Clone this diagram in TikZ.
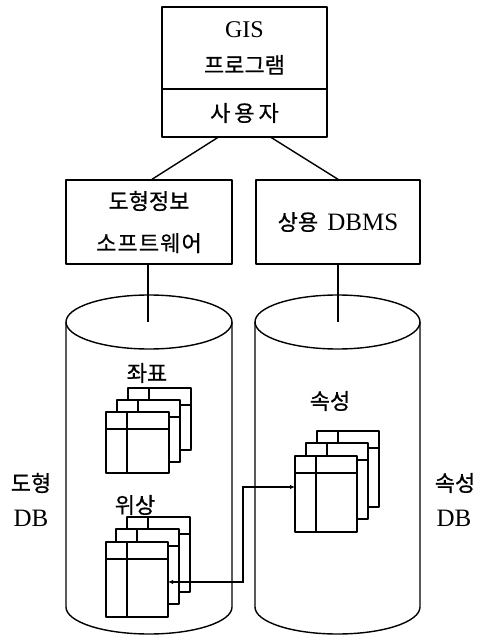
\documentclass[tikz,border=0pt]{standalone}
\usepackage{fontspec}
\setmainfont{Liberation Serif}
\newfontfamily\kr{Noto Sans CJK KR}[FakeBold=0.6]
\usetikzlibrary{arrows.meta,calc}
\tikzset{
  ln/.style={line width=1.4pt, line join=round},
  boxnode/.style={ln, draw, fill=white, inner sep=0pt, align=center},
  lbl/.style={inner sep=0pt, align=center},
  krf/.style={font=\kr\fontsize{22}{26}\selectfont},
  latf/.style={font=\fontsize{25}{28}\selectfont},
  link/.style={line width=1.2pt, {Latex[length=5pt,width=4.5pt]}-{Latex[length=5pt,width=4.5pt]}},
}
\newcommand\dbpage[4]{%
  \filldraw[ln, fill=white] (#1,#2) rectangle (#3,#4);
  \draw[ln] (#1,{#2+17}) -- (#3,{#2+17});
  \draw[ln] ({#1+21},#2) -- ({#1+21},#4);
}
\newcommand\dbcyl[5]{% cx top-center-y rx ry bottom-center-y
  \draw[ln] ({#1-#3},#2) -- ({#1-#3},#5)
     arc[start angle=180, end angle=0, x radius=#3, y radius=#4]
     -- ({#1+#3},#2);
  \draw[ln] (#1,#2) ellipse [x radius=#3, y radius=#4];
}
\begin{document}
\begin{tikzpicture}[x=1pt,y=-1pt]
\useasboundingbox (0,0) rectangle (476,636);
\fill[white] (0,0) rectangle (476,636);

% top box
\node[boxnode, minimum width=165pt, minimum height=82pt, font=\fontsize{24}{36}\selectfont] (prog) at (244.5,48)
  {GIS\\{\kr\fontsize{22}{26}\selectfont 프로그램}};
\node[boxnode, minimum width=165pt, minimum height=48pt, font=\kr\fontsize{22}{26}\selectfont] (user) at (244.5,113)
  {\addfontfeature{LetterSpace=18}사용자};

% second row boxes
\node[boxnode, minimum width=166pt, minimum height=84pt, font=\kr\fontsize{22}{42}\selectfont] (gsw) at (149,222)
  {도형정보\\\addfontfeature{LetterSpace=5}소프트웨어};
\node[boxnode, minimum width=164pt, minimum height=84pt, font=\fontsize{25}{28}\selectfont] (dbms) at (338,222)
  {{\kr\fontsize{22}{26}\selectfont 상용}\hspace{3pt} DBMS};

\draw[ln] ([xshift=-27pt]user.south) -- ([xshift=3pt]gsw.north);
\draw[ln] ([xshift=27pt]user.south) -- (dbms.north);

% cylinders
\dbcyl{149}{322}{83}{27}{607}
\dbcyl{337.5}{322}{82.5}{27}{607}
\coordinate (gtop) at (148,322);
\coordinate (atop) at (338,322);
\draw[ln] ([xshift=-1pt]gsw.south) -- (gtop);
\draw[ln] (dbms.south) -- (atop);

% labels
\node[lbl, krf] (coordlbl) at (147,373) {좌표};
\node[lbl, krf] (topolbl) at (135,505) {위상};
\node[lbl, krf] (attrlbl) at (330,401) {속성};
\node[lbl, krf] (gdb1) at (31,483) {도형};
\node[lbl, latf] (gdb2) at (31,518) {DB};
\node[lbl, krf] (adb1) at (455,483) {속성};
\node[lbl, latf] (adb2) at (454,518) {DB};

% page stacks
\dbpage{128}{388}{191}{450}
\dbpage{117}{400}{180}{462}
\dbpage{106}{412}{169}{473}

\dbpage{127}{517}{190}{592}
\dbpage{116}{529}{179}{604}
\dbpage{106}{542}{168}{617}

\dbpage{317}{431}{379}{507}
\dbpage{306}{443}{368}{519}
\dbpage{295}{456}{357}{532}

% link
\coordinate (topoR) at (168,582);
\coordinate (bend) at (243,534);
\coordinate (attrL) at (295,487);
\draw[link] (topoR) -| (bend) |- (attrL);
\end{tikzpicture}
\end{document}
